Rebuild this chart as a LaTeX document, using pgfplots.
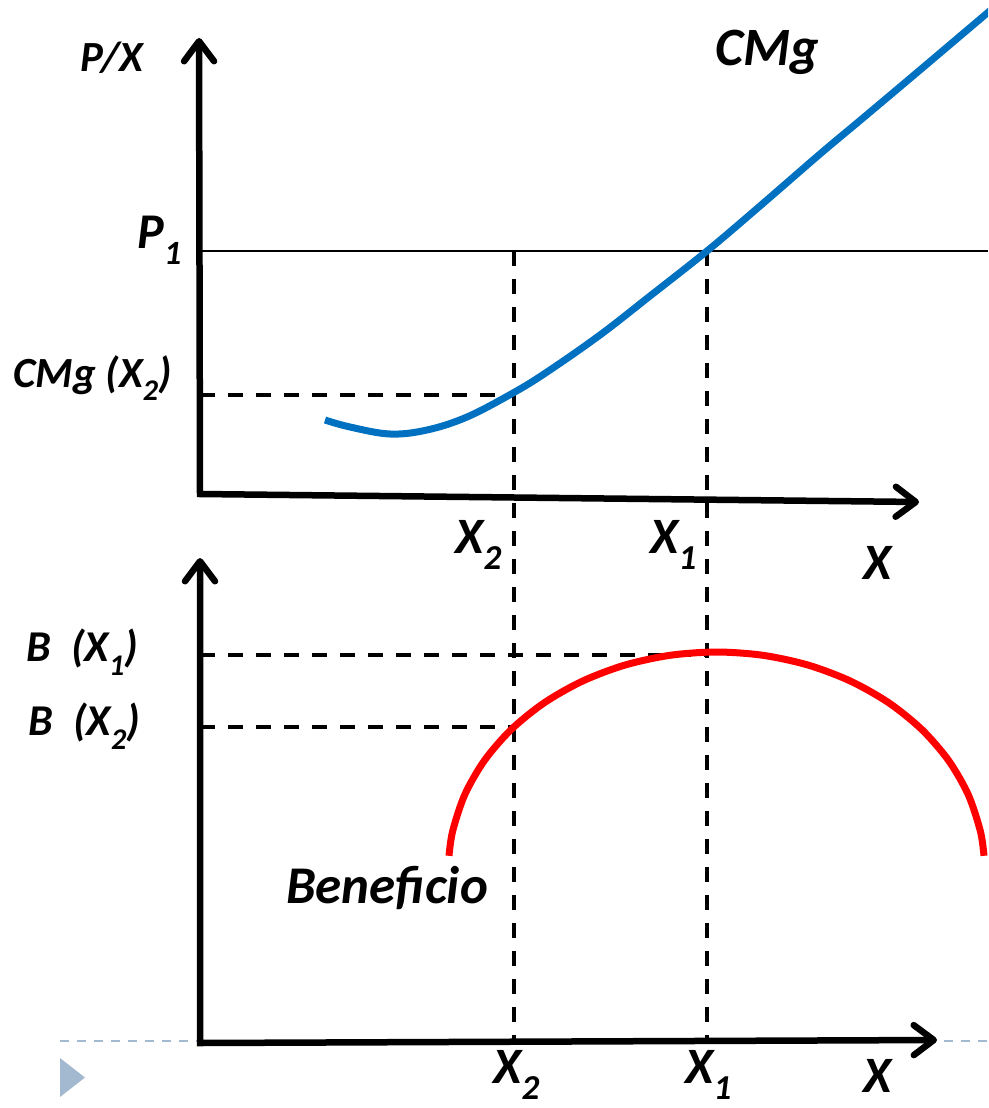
\documentclass[border=0pt]{standalone}
\usepackage{fontspec}
\setmainfont{Carlito}
\usepackage{pgfplots}
\pgfplotsset{compat=1.18}
\usetikzlibrary{arrows.meta}
\definecolor{cmgblue}{HTML}{0070C0}
\definecolor{lblue}{HTML}{A3B9CF}
\newcommand\lab[1]{\fontsize{#1}{#1}\selectfont\bfseries\itshape}
\newcommand\sub[2]{\raisebox{-0.32em}{\fontsize{#1}{#1}\selectfont #2}}
\begin{document}
\begin{tikzpicture}
\begin{axis}[width=988pt,height=1108pt,scale only axis,
  xmin=0,xmax=988,ymin=0,ymax=1108,y dir=reverse,hide axis]
% frame for bounding box
\addplot[draw=none] coordinates {(0,0) (988,1108)};
% light dashed baseline and triangle
\addplot[lblue,line width=2.2pt,dash pattern=on 9pt off 8pt] coordinates {(60,1041) (988,1041)};
\addplot[draw=none,fill=lblue] coordinates {(60,1058) (60,1097) (85,1077.5)} -- cycle;
% P1 line
\addplot[black,line width=1.4pt] coordinates {(200,251) (988,251)};
% dashed guide lines
\addplot[black,line width=3.2pt,dash pattern=on 15pt off 13pt] coordinates {(200,395) (514,395)};
\addplot[black,line width=3.2pt,dash pattern=on 15pt off 13pt] coordinates {(514,251) (514,1040)};
\addplot[black,line width=3.2pt,dash pattern=on 15pt off 13pt] coordinates {(707,251) (707,1040)};
\addplot[black,line width=3.2pt,dash pattern=on 15pt off 13pt] coordinates {(200,655) (707,655)};
\addplot[black,line width=3.2pt,dash pattern=on 15pt off 13pt] coordinates {(200,727) (514,727)};
% axes
\addplot[black,line width=6.5pt,line join=miter,{Straight Barb[length=20pt,width=30pt,round]}-{Straight Barb[length=20pt,width=30pt,round]}]
  coordinates {(199,38) (200,494) (919,502)};
\addplot[black,line width=6.5pt,line join=miter,{Straight Barb[length=20pt,width=30pt,round]}-{Straight Barb[length=20pt,width=30pt,round]}]
  coordinates {(200,558) (200,1043) (937,1040)};
% CMg curve
\addplot[cmgblue,line width=7pt,smooth,tension=0.6] coordinates {
 (325,420) (350,427) (390,434) (427,430) (467,417) (513,393) (547,372)
 (600,335) (650,296) (707,251) (760,206) (820,154) (863,118) (920,70) (992,9)};
% Beneficio curve
\addplot[red,line width=7pt,smooth,tension=0.5] coordinates {
 (449.0,855.8) (452.6,831.3) (464.7,794.8) (484.4,760.5) (511.2,729.5)
 (544.2,702.8) (582.5,681.1) (624.8,665.1) (670.0,655.3) (716.5,652.0)
 (763.0,655.3) (808.2,665.1) (850.5,681.1) (888.8,702.8) (921.8,729.5)
 (948.6,760.5) (968.3,794.8) (980.4,831.3) (984.0,855.8)};
% labels
\node[font=\lab{43}] at (axis cs:112,58) {P/X};
\node[font=\lab{54}] at (axis cs:767,52) {CMg};
\node[font=\lab{50},anchor=west] at (axis cs:134,240) {P\sub{34}{1}};
\node[font=\lab{43},anchor=west] at (axis cs:10,378) {CMg (X\sub{30}{2})};
\node[font=\lab{44},anchor=west] at (axis cs:23,652) {B\ \ (X\sub{30}{1})};
\node[font=\lab{44},anchor=west] at (axis cs:25,726) {B\ \ (X\sub{30}{2})};
\node[font=\lab{51},anchor=west] at (axis cs:452,545) {X\sub{35}{2}};
\node[font=\lab{51},anchor=west] at (axis cs:647,545) {X\sub{35}{1}};
\node[font=\lab{51}] at (axis cs:878,563) {X};
\node[font=\lab{53}] at (axis cs:387,888) {Beneficio};
\node[font=\lab{51},anchor=west] at (axis cs:490,1075) {X\sub{35}{2}};
\node[font=\lab{51},anchor=west] at (axis cs:682,1075) {X\sub{35}{1}};
\node[font=\lab{51}] at (axis cs:878,1076) {X};
\end{axis}
\end{tikzpicture}
\end{document}
